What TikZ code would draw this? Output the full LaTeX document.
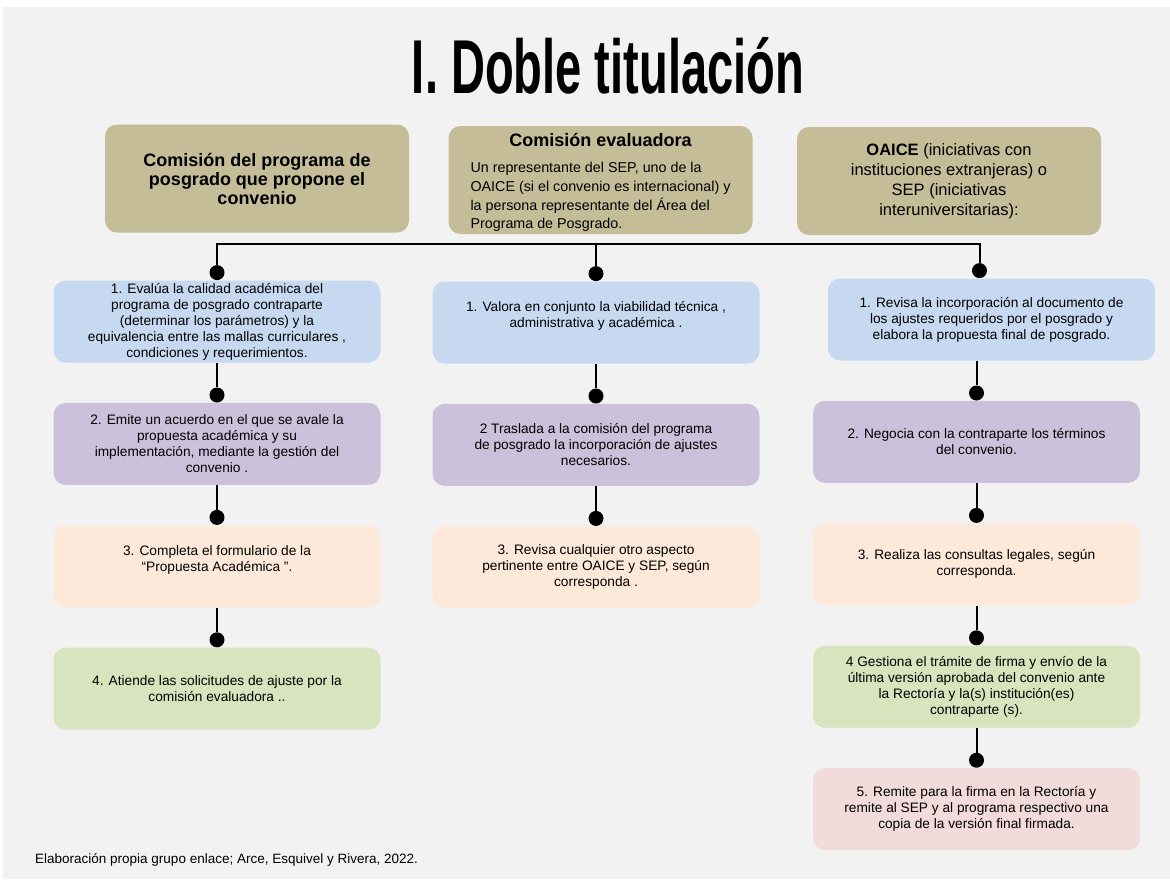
\documentclass[tikz,border=0pt]{standalone}
\usepackage{fontspec}
\setmainfont{Liberation Sans}
\usepackage{graphicx}
\usetikzlibrary{positioning}
\definecolor{bgcol}{HTML}{F2F2F2}
\definecolor{khaki}{HTML}{C4BD97}
\definecolor{stepblue}{HTML}{C6D9F1}
\definecolor{steppurple}{HTML}{CCC1DA}
\definecolor{steppeach}{HTML}{FDE9D9}
\definecolor{stepgreen}{HTML}{D7E4BD}
\definecolor{steppink}{HTML}{F2DCDB}
\tikzset{
  header/.style = {rectangle, fill=khaki, rounded corners=12pt, minimum width=304pt, minimum height=108pt, align=center, inner sep=0pt},
  stepbox/.style = {rectangle, rounded corners=12pt, minimum width=327pt, minimum height=82pt, align=center, inner sep=0pt, font=\fontsize{13.7}{16}\selectfont},
  dot/.style = {circle, fill=black, minimum size=15pt, inner sep=0pt},
  line/.style = {draw, line width=2pt}
}

\begin{document}
\begin{tikzpicture}[x=1pt, y=-1pt, node distance=40pt]

    \fill[bgcol] (3,7) rectangle (1170,879);
    \useasboundingbox (0,0) rectangle (1170,879);

    % Title
    \node[anchor=base] (title) at (608,93) {\resizebox{392pt}{56pt}{\bfseries I. Doble titulación}};

    % Headers
    \node[header, font=\fontsize{18}{19}\selectfont\bfseries] (h1) at (257,178.5) {Comisión del programa de\\posgrado que propone el\\convenio};
    \node[header, font=\fontsize{14.3}{18.7}\selectfont] (h2) at (600.5,180) {};
    \node[font=\fontsize{14.3}{18.7}\selectfont, align=center, inner sep=0pt] (h2text) at (600.5,184) {{\fontsize{18}{20}\selectfont\bfseries Comisión evaluadora}\\[7pt]\begin{tabular}[t]{@{}l@{}}Un representante del SEP, uno de la\\OAICE (si el convenio es internacional) y\\la persona representante del Área del\\Programa de Posgrado.\end{tabular}};
    \node[header, font=\fontsize{16.5}{20}\selectfont] (h3) at (949,181) {{\bfseries OAICE} (iniciativas con\\instituciones extranjeras) o\\SEP (iniciativas\\interuniversitarias):};

    % Column 1
    \node[stepbox, fill=stepblue] (a1) at (217,321.5) {1. Evalúa la calidad académica del\\programa de posgrado contraparte\\(determinar los parámetros) y la\\equivalencia entre las mallas curriculares ,\\condiciones y requerimientos.};
    \node[stepbox, fill=steppurple, below=of a1] (a2) {2. Emite un acuerdo en el que se avale la\\propuesta académica y su\\implementación, mediante la gestión del\\convenio .};
    \node[stepbox, fill=steppeach, below=of a2] (a3) {3. Completa el formulario de la\\“Propuesta Académica ”.\\\mbox{}};
    \node[stepbox, fill=stepgreen, below=of a3] (a4) {4. Atiende las solicitudes de ajuste por la\\comisión evaluadora ..};

    % Column 2
    \node[stepbox, fill=stepblue] (b1) at (596,322.5) {1. Valora en conjunto la viabilidad técnica ,\\administrativa y académica .\\\mbox{}};
    \node[stepbox, fill=steppurple, below=of b1] (b2) {2 Traslada a la comisión del programa\\de posgrado la incorporación de ajustes\\necesarios.};
    \node[stepbox, fill=steppeach, below=of b2] (b3) {3. Revisa cualquier otro aspecto\\pertinente entre OAICE y SEP, según\\corresponda .};

    % Column 3
    \node[stepbox, fill=stepblue] (c1) at (991.5,319.5) {1. Revisa la incorporación al documento de\\los ajustes requeridos por el posgrado y\\elabora la propuesta final de posgrado.};
    \node[stepbox, fill=steppurple, below=of c1, xshift=-15pt] (c2) {2. Negocia con la contraparte los términos\\del convenio.};
    \node[stepbox, fill=steppeach, below=of c2] (c3) {3. Realiza las consultas legales, según\\corresponda.};
    \node[stepbox, fill=stepgreen, below=of c3] (c4) {4 Gestiona el trámite de firma y envío de la\\última versión aprobada del convenio ante\\la Rectoría y la(s) institución(es)\\contraparte (s).};
    \node[stepbox, fill=steppink, below=of c4] (c5) {5. Remite para la firma en la Rectoría y\\remite al SEP y al programa respectivo una\\copia de la versión final firmada.};

    % Dots
    \node[dot, above=0pt of a1] (da1) {};
    \node[dot, above=0pt of a2] (da2) {};
    \node[dot, above=0pt of a3] (da3) {};
    \node[dot, above=0pt of a4] (da4) {};
    \node[dot, above=0pt of b1] (db1) {};
    \node[dot, above=0pt of b2] (db2) {};
    \node[dot, above=0pt of b3] (db3) {};
    \node[dot, above=0pt of c1, xshift=-12pt] (dc1) {};
    \node[dot, above=0pt of c2] (dc2) {};
    \node[dot, above=0pt of c3] (dc3) {};
    \node[dot, above=0pt of c4] (dc4) {};
    \node[dot, above=0pt of c5] (dc5) {};

    % Lines
    \coordinate (bar) at (0,244);
    \path [line] (da1) -- (da1 |- bar) -- (dc1 |- bar) -- (dc1);
    \path [line] (db1 |- bar) -- (db1);
    \path [line] (a1) -- (da2);
    \path [line] (a2) -- (da3);
    \path [line] (a3) -- (da4);
    \path [line] (b1) -- (db2);
    \path [line] (b2) -- (db3);
    \path [line] (dc2 |- c1.south) -- (dc2);
    \path [line] (c2) -- (dc3);
    \path [line] (c3) -- (dc4);
    \path [line] (c4) -- (dc5);

    % Source
    \node[anchor=west, inner sep=0pt, font=\fontsize{13.5}{15}\selectfont] (src) at (35,860) {Elaboración propia grupo enlace; Arce, Esquivel y Rivera, 2022.};

\end{tikzpicture}
\end{document}
